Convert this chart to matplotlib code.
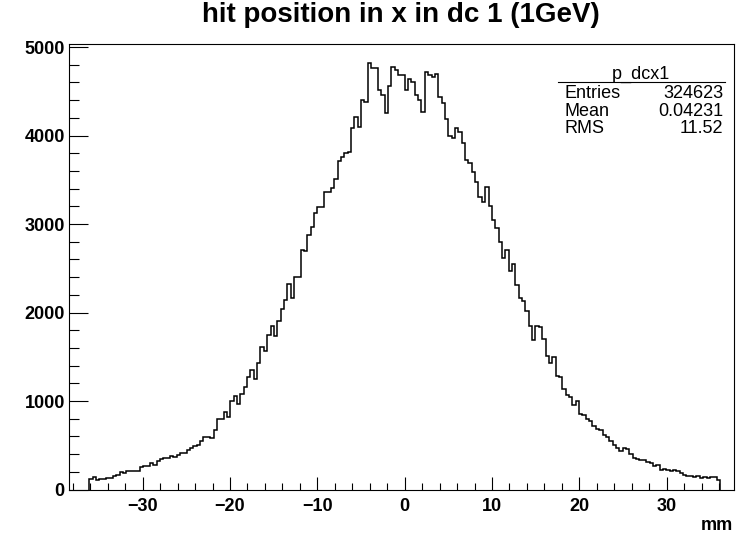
import matplotlib
matplotlib.use("Agg")
import matplotlib.pyplot as plt
import numpy as np
from matplotlib.lines import Line2D
from matplotlib.ticker import MultipleLocator

# bin contents of p_dcx1 (188 bins between -36.1 and 36.1 mm)
counts = [
    120, 143, 113, 120, 120, 132, 135, 150, 169, 199,
    181, 207, 207, 207, 207, 252, 271, 263, 301, 282,
    320, 346, 357, 357, 376, 369, 388, 414, 414, 451,
    470, 489, 508, 546, 595, 595, 584, 670, 801, 801,
    877, 816, 997, 1053, 971, 1084, 1159, 1272, 1347, 1249,
    1430, 1606, 1569, 1749, 1851, 1731, 1900, 2040, 2144, 2325,
    2163, 2400, 2400, 2709, 2690, 2878, 2972, 3123, 3198, 3198,
    3367, 3367, 3405, 3507, 3717, 3762, 3800, 3820, 4082, 4213,
    4093, 4402, 4383, 4816, 4759, 4759, 4515, 4458, 4259, 4560,
    4778, 4740, 4684, 4684, 4515, 4635, 4609, 4460, 4400, 4270,
    4720, 4690, 4660, 4700, 4439, 4371, 4183, 3990, 3969, 4082,
    4044, 3913, 3725, 3687, 3593, 3480, 3311, 3254, 3420, 3200,
    3050, 2950, 2800, 2615, 2709, 2464, 2551, 2314, 2163, 2125,
    2013, 1851, 1693, 1843, 1836, 1701, 1505, 1430, 1493, 1279,
    1268, 1137, 1072, 1042, 959, 997, 858, 846, 800, 771,
    722, 685, 670, 621, 595, 545, 508, 471, 432, 471,
    459, 406, 358, 346, 331, 339, 308, 301, 263, 282,
    226, 233, 218, 207, 226, 207, 188, 169, 158, 150,
    143, 158, 132, 143, 132, 143, 143, 110,
]
x_lo, x_hi = -36.1, 36.1

title = "hit position in x in dc 1 (1GeV)"
hist_name = "p_dcx1"
stat_labels = ["Entries", "Mean", "RMS"]
stat_values = ["324623", "0.04231", "11.52"]
x_unit = "mm"

plt.rcParams['font.family'] = ['Liberation Sans', 'DejaVu Sans']

W, H = 736, 536
fig = plt.figure(figsize=(W / 100, H / 100), dpi=100)
fig.patch.set_facecolor('white')

# frame in pixel coords of the reference: x 69..734, y 44..489.5
ax = fig.add_axes([69 / W, 1 - 489.5 / H, 665 / W, 445.5 / H])

edges = np.linspace(x_lo, x_hi, len(counts) + 1)
ax.stairs(counts, edges, color='black', lw=1.1, baseline=0)

ax.set_xlim(-38.44, 37.71)
ax.set_ylim(0, 5035)

ax.xaxis.set_major_locator(MultipleLocator(10))
ax.xaxis.set_minor_locator(MultipleLocator(2))
ax.yaxis.set_major_locator(MultipleLocator(1000))
ax.yaxis.set_minor_locator(MultipleLocator(200))

ax.tick_params(which='both', direction='in', top=False, right=False,
               width=0.8, colors='black')
ax.tick_params(axis='x', which='major', length=9.5, pad=6)
ax.tick_params(axis='x', which='minor', length=4.8)
ax.tick_params(axis='y', which='major', length=14, pad=3)
ax.tick_params(axis='y', which='minor', length=7)

for lab in ax.get_xticklabels() + ax.get_yticklabels():
    lab.set_fontsize(13)
    lab.set_fontweight('bold')

for s in ax.spines.values():
    s.set_linewidth(0.8)

def px(x, y):
    return x / W, 1 - y / H

fig.text(*px(401, 15), title, ha='center', va='center',
         fontsize=20, fontweight='bold')

# stats box (no border, just the rule under the name)
fig.text(*px(641, 74), hist_name, ha='center', va='center', fontsize=13)
fig.add_artist(Line2D([558 / W, 725 / W], [1 - 81.7 / H] * 2,
                      color='black', lw=0.8))
for i, (lab, val) in enumerate(zip(stat_labels, stat_values)):
    yy = 93.5 + 17.5 * i
    fig.text(*px(565, yy), lab, ha='left', va='center', fontsize=13)
    fig.text(*px(723, yy), val, ha='right', va='center', fontsize=13)

fig.text(*px(733, 526), x_unit, ha='right', va='center',
         fontsize=13, fontweight='bold')

plt.savefig("out.png", dpi=100)
